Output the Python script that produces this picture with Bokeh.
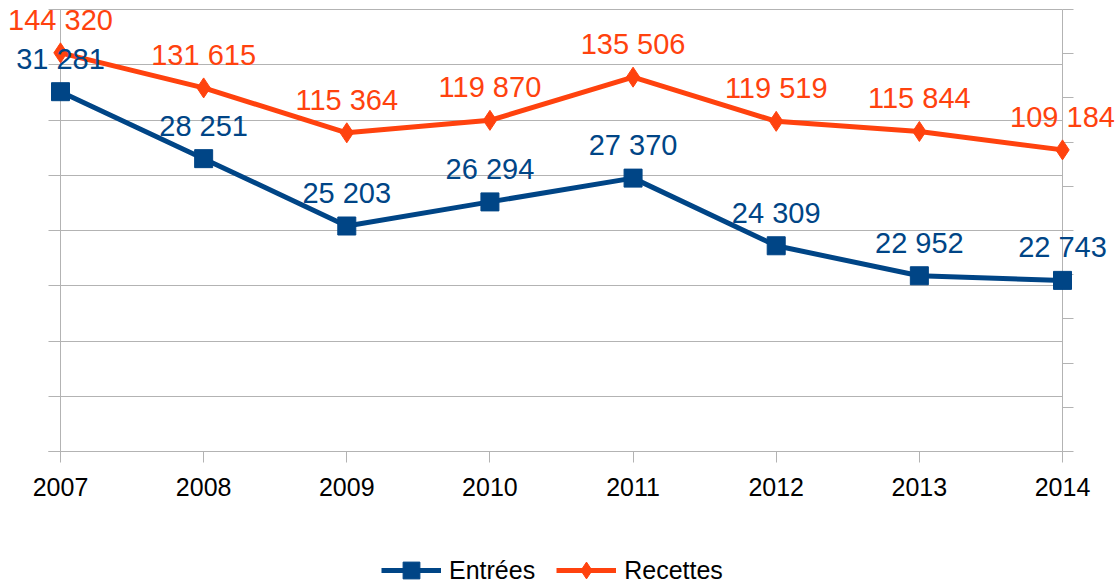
from bokeh.plotting import figure
from bokeh.models import (Range1d, LinearAxis, FixedTicker, LabelSet,
                          ColumnDataSource, Legend, LegendItem)
from bokeh.core.properties import value
from bokeh.embed import file_html
from bokeh.resources import INLINE

# ---- data ----
years = ["2007", "2008", "2009", "2010", "2011", "2012", "2013", "2014"]
entrees = [31281, 28251, 25203, 26294, 27370, 24309, 22952, 22743]
recettes = [144320, 131615, 115364, 119870, 135506, 119519, 115844, 109184]
left_ticks = [15000, 17500, 20000, 22500, 25000, 27500, 30000, 32500, 35000]
right_ticks = [0, 16000, 32000, 48000, 64000, 80000, 96000, 112000, 128000, 144000, 160000]
series_names = ["Entrées", "Recettes"]

BLUE = "#004586"
ORANGE = "#ff420e"
GRID = "#b3b3b3"
FONT = "Liberation Sans"

# ---- layout (pixels) ----
W, H = 1115, 584
PX_LEFT, PX_RIGHT = 60, 1062      # first / last category
PX_TOP, PX_BOTTOM = 9, 451        # top / bottom of the value axes


def fmt(v):
    return f"{v:,}".replace(",", " ")


xs = list(range(len(years)))
n = len(years)
ux = (PX_RIGHT - PX_LEFT) / (n - 1)


def yrange(lo, hi):
    u = (PX_BOTTOM - PX_TOP) / (hi - lo)
    return Range1d(lo - (H - PX_BOTTOM) / u, hi + PX_TOP / u)


p = figure(width=W, height=H,
           x_range=Range1d(-PX_LEFT / ux, (n - 1) + (W - PX_RIGHT) / ux),
           y_range=yrange(left_ticks[0], left_ticks[-1]),
           output_backend="svg", toolbar_location=None,
           min_border=0, min_border_left=0, min_border_right=0,
           min_border_top=0, min_border_bottom=0,
           outline_line_color=None)
p.background_fill_color = "white"
p.border_fill_color = "white"
p.xgrid.visible = False
p.ygrid.visible = False

p.extra_y_ranges = {"rec": yrange(right_ticks[0], right_ticks[-1])}

# left value axis: line at first category, ticks extended as grid lines
ya = p.yaxis[0]
ya.fixed_location = xs[0]
ya.bounds = (left_ticks[0], left_ticks[-1])
ya.ticker = FixedTicker(ticks=left_ticks)
ya.major_tick_out = 12
ya.major_tick_in = PX_RIGHT - PX_LEFT
ya.minor_tick_line_color = None
ya.axis_line_color = GRID
ya.major_tick_line_color = GRID
ya.major_label_text_color = None
ya.level = "underlay"

# right value axis: line at last category, outward ticks
rax = LinearAxis(y_range_name="rec", fixed_location=xs[-1],
                 bounds=(right_ticks[0], right_ticks[-1]),
                 ticker=FixedTicker(ticks=right_ticks),
                 major_tick_in=0, major_tick_out=11,
                 minor_tick_line_color=None, axis_line_color=GRID,
                 major_tick_line_color=GRID,
                 major_label_text_color=None, level="underlay")
p.add_layout(rax, "right")

# category axis
xa = p.xaxis[0]
xa.fixed_location = left_ticks[0]
xa.bounds = (-12 / ux, xs[-1])
xa.ticker = FixedTicker(ticks=xs)
xa.major_label_overrides = {i: y for i, y in enumerate(years)}
xa.major_tick_out = 11
xa.major_tick_in = 0
xa.minor_tick_line_color = None
xa.axis_line_color = GRID
xa.major_tick_line_color = GRID
xa.major_label_text_font = FONT
xa.major_label_text_font_size = "25px"
xa.major_label_text_color = "black"
xa.major_label_standoff = 15
xa.level = "underlay"

# series
l1 = p.line(xs, entrees, line_color=BLUE, line_width=5)
s1 = p.scatter(xs, entrees, marker="square", size=18, color=BLUE)
l2 = p.line(xs, recettes, y_range_name="rec", line_color=ORANGE, line_width=5)
s2 = p.scatter(xs, recettes, y_range_name="rec", marker="diamond",
               size=20, color=ORANGE)

src1 = ColumnDataSource(dict(x=xs, y=entrees, t=[fmt(v) for v in entrees]))
src2 = ColumnDataSource(dict(x=xs, y=recettes, t=[fmt(v) for v in recettes]))
p.add_layout(LabelSet(x="x", y="y", text="t", source=src1,
                      text_align="center", text_baseline="alphabetic",
                      y_offset=23, text_font=value(FONT),
                      text_font_size="29px", text_color=BLUE))
p.add_layout(LabelSet(x="x", y="y", text="t", source=src2, y_range_name="rec",
                      text_align="center", text_baseline="alphabetic",
                      y_offset=23, text_font=value(FONT),
                      text_font_size="29px", text_color=ORANGE))

legend = Legend(items=[LegendItem(label=series_names[0], renderers=[l1, s1]),
                       LegendItem(label=series_names[1], renderers=[l2, s2])],
                orientation="horizontal", location=(381, -7),
                glyph_width=60, glyph_height=42, label_standoff=8,
                spacing=21, padding=0, margin=0,
                border_line_color=None, background_fill_alpha=0,
                label_text_font=FONT, label_text_font_size="25px",
                label_text_color="black")
p.add_layout(legend)

with open("out.html", "w", encoding="utf-8") as f:
    f.write(file_html(p, INLINE))
